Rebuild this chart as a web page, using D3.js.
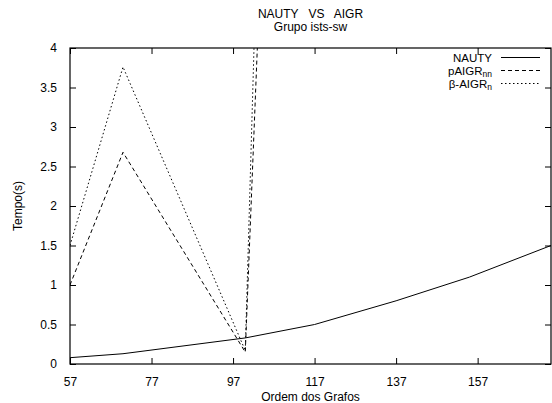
<!DOCTYPE html>
<html><head><meta charset="utf-8">
<script src="https://cdn.jsdelivr.net/npm/d3@7"></script>
<style>body{margin:0;background:#fff}svg{display:block}text{font-family:"Liberation Sans",Arial,sans-serif;fill:#000;white-space:pre}</style>
</head><body><svg id="c" width="552" height="403"></svg>
<script>
const xValues = [57, 70, 100, 117, 137, 155, 175];
const nauty = [0.08, 0.13, 0.33, 0.5, 0.8, 1.1, 1.5];
const pAIGRxValues = [57, 70, 100, 117];
const pAIGR = [1.0, 2.68, 0.15, 22.3];
const betaAIGR = [1.5, 3.76, 0.17, 30.6];
const xTicks = [57, 77, 97, 117, 137, 157];
const yTicks = [0, 0.5, 1, 1.5, 2, 2.5, 3, 3.5, 4];

const svg = d3.select("#c");
const L = 70, R = 551, T = 48, B = 364;
const x = d3.scaleLinear().domain([57, 175]).range([L, R]);
const y = d3.scaleLinear().domain([0, 4]).range([B, T]);

svg.append("defs").append("clipPath").attr("id","clip")
  .append("rect").attr("x",L).attr("y",T).attr("width",R-L).attr("height",B-T);

const fmt = d3.format("");
svg.append("g").attr("transform",`translate(0,${B})`)
  .call(d3.axisBottom(x).tickValues(xTicks).tickSize(-6).tickPadding(13).tickFormat(fmt))
  .call(g=>{g.select(".domain").remove();g.selectAll("text").attr("font-size",12).style("font-family","Liberation Sans,Arial,sans-serif");});
svg.append("g").attr("transform",`translate(0,${T})`)
  .call(d3.axisTop(x).tickValues(xTicks).tickSize(-6).tickFormat(""))
  .call(g=>g.select(".domain").remove());
svg.append("g").attr("transform",`translate(${L},0)`)
  .call(d3.axisLeft(y).tickValues(yTicks).tickSize(-6).tickPadding(13).tickFormat(fmt))
  .call(g=>{g.select(".domain").remove();g.selectAll("text").attr("font-size",12).style("font-family","Liberation Sans,Arial,sans-serif");});
svg.append("g").attr("transform",`translate(${R},0)`)
  .call(d3.axisRight(y).tickValues(yTicks).tickSize(-6).tickFormat(""))
  .call(g=>g.select(".domain").remove());
svg.append("rect").attr("x",L).attr("y",T).attr("width",R-L).attr("height",B-T)
  .attr("fill","none").attr("stroke","#000").attr("stroke-width",1.2);

const line = d3.line().x(d=>x(d[0])).y(d=>y(d[1]));
const g = svg.append("g").attr("clip-path","url(#clip)");
g.append("path").datum(xValues.map((v,i)=>[v,nauty[i]])).attr("d",line)
  .attr("fill","none").attr("stroke","#000").attr("stroke-width",1);
g.append("path").datum(pAIGRxValues.map((v,i)=>[v,pAIGR[i]])).attr("d",line)
  .attr("fill","none").attr("stroke","#000").attr("stroke-width",1).attr("stroke-dasharray","4,3");
g.append("path").datum(pAIGRxValues.map((v,i)=>[v,betaAIGR[i]])).attr("d",line)
  .attr("fill","none").attr("stroke","#000").attr("stroke-width",1).attr("stroke-dasharray","1.5,2.5");

const cx = (L+R)/2;
svg.append("text").attr("x",cx).attr("y",18).attr("text-anchor","middle").attr("font-size",12).text("NAUTY   VS   AIGR");
svg.append("text").attr("x",cx).attr("y",31).attr("text-anchor","middle").attr("font-size",12).text("Grupo ists-sw");
svg.append("text").attr("x",cx).attr("y",401).attr("text-anchor","middle").attr("font-size",12).text("Ordem dos Grafos");
svg.append("text").attr("transform","translate(22,206) rotate(-90)").attr("text-anchor","middle").attr("font-size",12).text("Tempo(s)");

const leg = [
  {main:"NAUTY", sub:"", dash:null},
  {main:"pAIGR", sub:"nn", dash:"4,3"},
  {main:"β-AIGR", sub:"n", dash:"1.5,2.5"}
];
leg.forEach((d,i)=>{
  const yy = 61.5 + i*13;
  const t = svg.append("text").attr("x",492).attr("y",yy).attr("text-anchor","end").attr("font-size",11.5);
  t.append("tspan").text(d.main);
  if(d.sub) t.append("tspan").attr("dy",2).attr("font-size",8.5).text(d.sub);
  const ln = svg.append("line").attr("x1",501).attr("x2",540).attr("y1",yy-4).attr("y2",yy-4)
    .attr("stroke","#000").attr("stroke-width",1);
  if(d.dash) ln.attr("stroke-dasharray",d.dash);
});
</script></body></html>
